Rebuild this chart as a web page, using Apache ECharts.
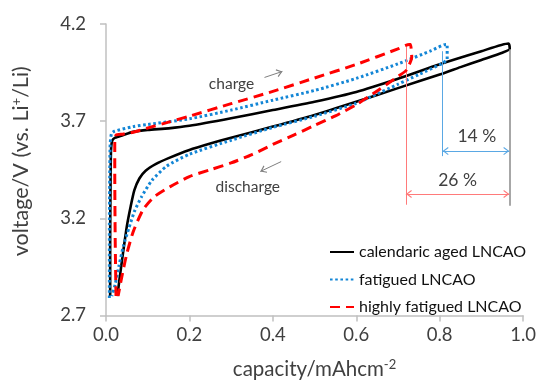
<!DOCTYPE html>
<html>
<head>
<meta charset="utf-8">
<script src="https://cdn.jsdelivr.net/npm/echarts@6/dist/echarts.min.js"></script>
<style>
  html, body { margin: 0; padding: 0; background: #ffffff; }
  #chart { width: 539px; height: 385px; }
</style>
</head>
<body>
<div id="chart"></div>
<script>
// Sample names shown in the legend
const sampleNames = ['calendaric aged LNCAO', 'fatigued LNCAO', 'highly fatigued LNCAO'];

// Capacity (mAh cm^-2) / voltage (V vs. Li+/Li) pairs, charge branch (bottom-left to top-right)
const calendaricCharge = [
  [0.010, 2.80], [0.010, 3.10], [0.011, 3.40], [0.012, 3.55], [0.015, 3.60], [0.022, 3.615],
  [0.040, 3.628], [0.065, 3.645], [0.100, 3.655], [0.150, 3.663], [0.200, 3.676], [0.300, 3.715],
  [0.400, 3.757], [0.500, 3.800], [0.600, 3.850], [0.700, 3.918], [0.800, 3.993], [0.900, 4.060],
  [0.965, 4.100]
];
// Discharge branch (top-right back to bottom-left)
const calendaricDischarge = [
  [0.968, 4.072], [0.950, 4.052], [0.900, 4.015], [0.850, 3.978], [0.800, 3.940], [0.700, 3.870],
  [0.600, 3.800], [0.500, 3.732], [0.400, 3.672], [0.300, 3.615], [0.250, 3.585], [0.200, 3.552],
  [0.150, 3.510], [0.120, 3.480], [0.095, 3.445], [0.080, 3.405], [0.068, 3.345], [0.059, 3.260],
  [0.050, 3.160], [0.042, 3.040], [0.035, 2.930], [0.029, 2.830], [0.027, 2.800]
];

const fatiguedCharge = [
  [0.008, 2.79], [0.008, 3.10], [0.009, 3.45], [0.010, 3.58], [0.013, 3.635], [0.020, 3.648],
  [0.065, 3.672], [0.100, 3.683], [0.200, 3.712], [0.300, 3.757], [0.400, 3.808], [0.500, 3.858],
  [0.600, 3.920], [0.700, 3.995], [0.780, 4.063], [0.815, 4.095]
];
const fatiguedDischarge = [
  [0.818, 4.095], [0.818, 4.020], [0.807, 3.998], [0.750, 3.940], [0.700, 3.890], [0.632, 3.822],
  [0.600, 3.792], [0.500, 3.725], [0.400, 3.668], [0.300, 3.602], [0.200, 3.530], [0.145, 3.468],
  [0.110, 3.395], [0.085, 3.310], [0.068, 3.235], [0.055, 3.150], [0.042, 3.060], [0.031, 2.955],
  [0.022, 2.860], [0.014, 2.800]
];

const highlyFatiguedCharge = [
  [0.024, 2.80], [0.022, 3.10], [0.021, 3.45], [0.021, 3.60], [0.024, 3.628], [0.040, 3.633],
  [0.065, 3.643], [0.105, 3.668], [0.150, 3.695], [0.200, 3.726], [0.300, 3.790], [0.400, 3.853],
  [0.500, 3.922], [0.600, 3.992], [0.700, 4.072], [0.727, 4.095]
];
const highlyFatiguedDischarge = [
  [0.730, 4.095], [0.733, 4.030], [0.720, 3.962], [0.700, 3.930], [0.650, 3.855], [0.600, 3.785],
  [0.550, 3.727], [0.500, 3.678], [0.450, 3.628], [0.400, 3.580], [0.350, 3.528], [0.300, 3.485],
  [0.250, 3.450], [0.200, 3.415], [0.153, 3.362], [0.115, 3.310], [0.089, 3.245], [0.065, 3.130],
  [0.049, 3.010], [0.037, 2.890], [0.029, 2.800]
];

// Axis ticks
const capacityTicks = [0.0, 0.2, 0.4, 0.6, 0.8, 1.0];
const voltageTicks = [2.7, 3.2, 3.7, 4.2];

// End-of-charge capacities used for the capacity-loss brackets
const endCapacity = { calendaric: 0.967, fatigued: 0.807, highlyFatigued: 0.719 };
const lossLabels = ['14 %', '26 %'];
const bracketVoltage = { fatigued: 3.546, highlyFatigued: 3.325 };
const dropLineRange = {
  calendaric: [3.265, 4.07],
  fatigued: [3.52, 4.06],
  highlyFatigued: [3.27, 4.085]
};

// Direction hints
const chargeArrow = [[0.380, 3.925], [0.423, 3.956]];
const dischargeArrow = [[0.420, 3.492], [0.370, 3.441]];
const chargeLabelAt = [0.301, 3.891];
const dischargeLabelAt = [0.340, 3.362];
const lossLabelAt = [[0.889, 3.620], [0.843, 3.393]];

const FONT = 'Lato, "Open Sans", sans-serif';
const TEXT = '#404040';
// Open chevron arrowhead pointing up, tip placed at the symbol centre
// (the empty second subpath only extends the bounding box downwards)
const CHEVRON = 'path://M5,10 L10,19 L8.8,20 L5,13.2 L1.2,20 L0,19 Z M5,0 L5.001,0 L5,0.001 Z';

const chart = echarts.init(document.getElementById('chart'), null, { renderer: 'canvas' });

const seg = (a, b, color, width, endSym) => [
  { coord: a, symbol: endSym[0], lineStyle: { color, width, type: 'solid' }, itemStyle: { color } },
  { coord: b, symbol: endSym[1] }
];

const annotationLines = [
  seg([endCapacity.highlyFatigued, dropLineRange.highlyFatigued[0]], [endCapacity.highlyFatigued, dropLineRange.highlyFatigued[1]], '#ff7a7a', 1, ['none', 'none']),
  seg([endCapacity.fatigued, dropLineRange.fatigued[0]], [endCapacity.fatigued, dropLineRange.fatigued[1]], '#5aa8e4', 1, ['none', 'none']),
  seg([endCapacity.calendaric, dropLineRange.calendaric[0]], [endCapacity.calendaric, dropLineRange.calendaric[1]], '#8a8a8a', 1.5, ['none', 'none']),
  seg([endCapacity.fatigued, bracketVoltage.fatigued], [endCapacity.calendaric, bracketVoltage.fatigued], '#5aa8e4', 1, [CHEVRON, CHEVRON]),
  seg([endCapacity.highlyFatigued, bracketVoltage.highlyFatigued], [endCapacity.calendaric, bracketVoltage.highlyFatigued], '#ff7a7a', 1, [CHEVRON, CHEVRON]),
  seg(chargeArrow[0], chargeArrow[1], '#7f7f7f', 1, ['none', CHEVRON]),
  seg(dischargeArrow[0], dischargeArrow[1], '#7f7f7f', 1, ['none', CHEVRON])
];

const annotationTexts = [
  { name: 'charge', coord: chargeLabelAt, label: { fontSize: 15.5 } },
  { name: 'discharge', coord: dischargeLabelAt, label: { fontSize: 15.5 } },
  { name: lossLabels[0], coord: lossLabelAt[0], label: { fontSize: 17.5 } },
  { name: lossLabels[1], coord: lossLabelAt[1], label: { fontSize: 17.5 } }
];

const axisGray = '#c0c0c0';
const supStyle = { fontFamily: FONT, fontSize: 13, color: TEXT, verticalAlign: 'top', padding: [0, 0, 9, 0] };

chart.setOption({
  animation: false,
  backgroundColor: '#ffffff',
  grid: { left: 106, right: 15, top: 24, bottom: 68, containLabel: false },
  legend: {
    data: sampleNames,
    orient: 'vertical',
    left: 324,
    top: 239,
    itemWidth: 24,
    itemHeight: 14,
    itemGap: 11.5,
    itemStyle: { opacity: 0 },
    textStyle: { fontFamily: FONT, fontSize: 16, color: '#111111' }
  },
  xAxis: {
    type: 'value',
    min: capacityTicks[0],
    max: capacityTicks[capacityTicks.length - 1],
    interval: 0.2,
    axisLine: { show: true, lineStyle: { color: axisGray, width: 1.5 } },
    axisTick: { show: true, inside: false, length: 6, lineStyle: { color: axisGray, width: 1.5 } },
    splitLine: { show: false },
    axisLabel: { fontFamily: FONT, fontSize: 18.5, color: TEXT, margin: 10, formatter: v => v.toFixed(1) },
    name: 'capacity/mAhcm{sup|-2}',
    nameLocation: 'middle',
    nameGap: 43,
    nameTextStyle: { fontFamily: FONT, fontSize: 20.5, color: TEXT, rich: { sup: supStyle } }
  },
  yAxis: {
    type: 'value',
    min: voltageTicks[0],
    max: voltageTicks[voltageTicks.length - 1],
    interval: 0.5,
    axisLine: { show: true, lineStyle: { color: axisGray, width: 1.5 } },
    axisTick: { show: true, inside: false, length: 6, lineStyle: { color: axisGray, width: 1.5 } },
    splitLine: { show: false },
    axisLabel: { fontFamily: FONT, fontSize: 18.5, color: TEXT, margin: 20, formatter: v => v.toFixed(1) },
    name: 'voltage/V (vs. Li{sup|+}/Li)',
    nameLocation: 'middle',
    nameRotate: 90,
    nameGap: 74,
    nameTextStyle: { fontFamily: FONT, fontSize: 21.5, color: TEXT, padding: [0, 0, 0, 17], rich: { sup: supStyle } }
  },
  series: [
    {
      name: sampleNames[0], type: 'line', showSymbol: false, symbol: 'none', smooth: 0.2,
      data: calendaricCharge.concat(calendaricDischarge),
      lineStyle: { color: '#000000', width: 2.6, type: 'solid', join: 'round' },
      itemStyle: { color: '#000000' },
      z: 3
    },
    {
      name: sampleNames[1], type: 'line', showSymbol: false, symbol: 'none', smooth: 0.2,
      data: fatiguedCharge.concat(fatiguedDischarge),
      lineStyle: { color: '#1386d6', width: 3, type: [2.6, 2.6], join: 'round' },
      itemStyle: { color: '#1386d6' },
      z: 4
    },
    {
      name: sampleNames[2], type: 'line', showSymbol: false, symbol: 'none', smooth: 0.2,
      data: highlyFatiguedCharge.concat(highlyFatiguedDischarge),
      lineStyle: { color: '#ff0000', width: 3, type: [10, 6], join: 'round' },
      itemStyle: { color: '#ff0000' },
      z: 5
    },
    {
      name: 'annotations', type: 'line', data: [], silent: true, z: 2,
      markLine: {
        silent: true, animation: false,
        symbolSize: [8, 12],
        label: { show: false },
        data: annotationLines
      },
      markPoint: {
        silent: true, animation: false,
        symbol: 'circle', symbolSize: 0,
        itemStyle: { color: 'transparent' },
        label: { show: true, position: 'inside', formatter: '{b}', fontFamily: FONT, color: TEXT },
        data: annotationTexts
      }
    }
  ]
});
</script>
</body>
</html>
